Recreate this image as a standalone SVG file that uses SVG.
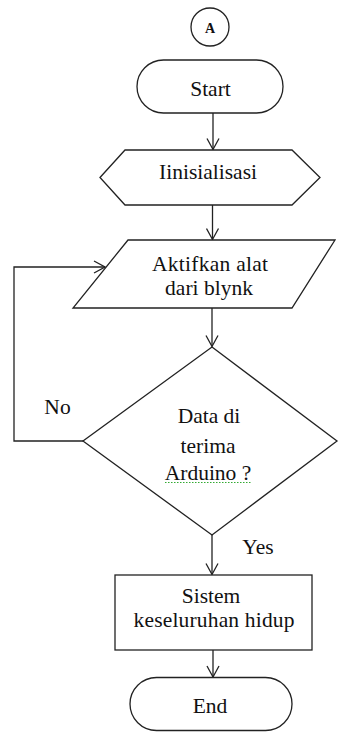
<svg xmlns="http://www.w3.org/2000/svg" width="339" height="734" viewBox="0 0 339 734">
<style>
.s{fill:#fff;stroke:#222;stroke-width:1.3}
.t{font-family:'Liberation Serif','Times New Roman',serif;font-size:21.5px;fill:#111;text-anchor:middle}
.c{fill:none;stroke:#222;stroke-width:1.3}
</style>
<defs>
<marker id="ah" viewBox="0 0 13 14" refX="12" refY="7" markerWidth="13" markerHeight="14" markerUnits="userSpaceOnUse" orient="auto">
<polyline points="1,1 12,7 1,13" fill="none" stroke="#222" stroke-width="1.3"/>
</marker>
</defs>
<rect width="339" height="734" fill="#fff"/>
<g id="connectors">
<line class="c" x1="213" y1="113" x2="213" y2="149.5" marker-end="url(#ah)"/>
<line class="c" x1="212.5" y1="205" x2="212.5" y2="239.5" marker-end="url(#ah)"/>
<line class="c" x1="212" y1="308" x2="212" y2="346.5" marker-end="url(#ah)"/>
<line class="c" x1="212" y1="535" x2="212" y2="574.5" marker-end="url(#ah)"/>
<line class="c" x1="213" y1="650" x2="213" y2="677" marker-end="url(#ah)"/>
<polyline class="c" points="83,441 14,441 14,267 105,267" marker-end="url(#ah)"/>
<text class="t" x="57.5" y="414">No</text>
<text class="t" x="258" y="554">Yes</text>
</g>
<g id="connectorA">
<circle class="s" cx="210" cy="27" r="19"/>
<text class="t" x="210" y="32.5" style="font-size:14px;font-weight:bold">A</text>
</g>
<g id="start">
<rect class="s" x="137" y="60" width="146" height="53" rx="26.5"/>
<text class="t" x="210.5" y="96">Start</text>
</g>
<g id="init">
<polygon class="s" points="100,177.5 125,150 292,150 320,177.5 292,205 125,205"/>
<text class="t" x="208" y="179">Iinisialisasi</text>
</g>
<g id="input">
<polygon class="s" points="128,240 335,240 292,308 73,308"/>
<text class="t" x="210" y="271" textLength="116" lengthAdjust="spacing">Aktifkan alat</text>
<text class="t" x="209" y="295">dari blynk</text>
</g>
<g id="decision">
<polygon class="s" points="212,347 337,441 212,535 83,441"/>
<text class="t" x="209" y="423">Data di</text>
<text class="t" x="208" y="453">terima</text>
<text class="t" x="208" y="480">Arduino ?</text>
<line x1="165" y1="482.5" x2="252" y2="482.5" stroke="#3a3" stroke-width="1.2" stroke-dasharray="1.5,1.5"/>
</g>
<g id="process">
<rect class="s" x="115" y="575" width="197" height="75"/>
<text class="t" x="211" y="603">Sistem</text>
<text class="t" x="214" y="627" textLength="161" lengthAdjust="spacing">keseluruhan hidup</text>
</g>
<g id="end">
<rect class="s" x="130" y="677.5" width="162" height="53" rx="26.5"/>
<text class="t" x="210" y="713">End</text>
</g>
</svg>
